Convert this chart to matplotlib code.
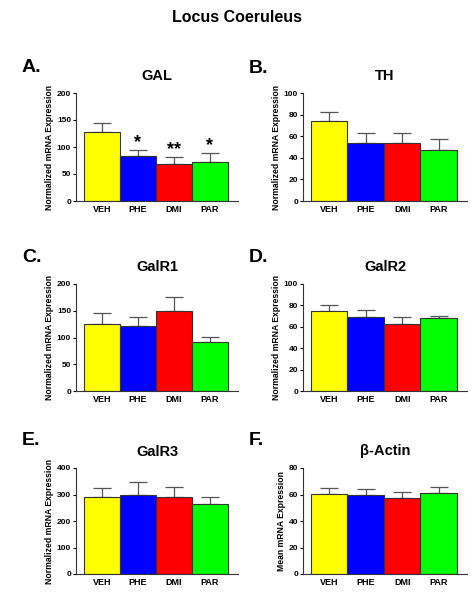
import matplotlib
matplotlib.use("Agg")
import matplotlib.pyplot as plt
import numpy as np

plt.rcParams['font.family'] = ['Liberation Sans', 'DejaVu Sans']
plt.rcParams['font.weight'] = 'bold'

groups = ['VEH', 'PHE', 'DMI', 'PAR']
bar_colors = ['#ffff00', '#0000ff', '#ff0000', '#00ff00']

gal_mean = [128, 83, 69, 73]
gal_sem = [17, 11, 12, 15]
gal_stars = ['', '*', '**', '*']
th_mean = [74, 54, 53.5, 47.5]
th_sem = [8.5, 9.3, 9.3, 10]
galr1_mean = [125, 121, 149.5, 91]
galr1_sem = [20, 18, 27, 9.5]
galr2_mean = [74.5, 69, 63, 68]
galr2_sem = [5.5, 6.5, 6, 2.5]
galr3_mean = [292, 300, 292, 263]
galr3_sem = [33, 48, 38, 26]
actin_mean = [60.5, 59.5, 57, 61.5]
actin_sem = [4.5, 4.3, 4.7, 4.5]

panels = [
    ('A.', 'GAL', gal_mean, gal_sem, 200, 50, 'Normalized mRNA Expression', gal_stars),
    ('B.', 'TH', th_mean, th_sem, 100, 20, 'Normalized mRNA Expression', None),
    ('C.', 'GalR1', galr1_mean, galr1_sem, 200, 50, 'Normalized mRNA Expression', None),
    ('D.', 'GalR2', galr2_mean, galr2_sem, 100, 20, 'Normalized mRNA Expression', None),
    ('E.', 'GalR3', galr3_mean, galr3_sem, 400, 100, 'Normalized mRNA Expression', None),
    ('F.', '\u03b2-Actin', actin_mean, actin_sem, 80, 20, 'Mean mRNA Expression', None),
]

W, H = 473, 600
fig = plt.figure(figsize=(W / 100, H / 100), dpi=100)
fig.text(237 / W, 1 - 18 / H, 'Locus Coeruleus', ha='center', va='center',
         fontsize=11.5, fontweight='bold')

# axes boxes in pixels: left, top, right, bottom
col_x = [(76, 238), (303, 467)]
row_y = [(93, 201), (284, 391), (468, 574)]
letter_pos = [(22, 72), (249, 73), (22, 262), (249, 262), (22, 445), (249, 445)]

x = np.arange(len(groups))
for i, (letter, title, mean, sem, ymax, step, ylab, stars) in enumerate(panels):
    c, r = i % 2, i // 2
    l, rr = col_x[c]
    t, b = row_y[r]
    ax = fig.add_axes([l / W, 1 - b / H, (rr - l) / W, (b - t) / H])
    ax.errorbar(x, mean, yerr=[np.zeros(4), sem], fmt='none', ecolor='#555555',
                elinewidth=0.9, capsize=6.5, capthick=0.9, zorder=1)
    ax.bar(x, mean, width=1.0, color=bar_colors, edgecolor='#333333',
           linewidth=0.8, zorder=2)
    if stars:
        for xi, m, s, st in zip(x, mean, sem, stars):
            if st:
                ax.text(xi, m + s - 2, st, ha='center', va='bottom', fontsize=13,
                        fontweight='bold')
    ax.set_xlim(-0.72, 3.78)
    ax.set_ylim(0, ymax)
    ax.set_yticks(np.arange(0, ymax + 1, step))
    ax.set_xticks(x)
    ax.set_xticklabels(groups)
    ax.tick_params(axis='y', length=2.5, width=0.8, labelsize=6, pad=1)
    ax.tick_params(axis='x', length=0, labelsize=6.5, pad=3)
    for lab in ax.get_xticklabels() + ax.get_yticklabels():
        lab.set_fontweight('bold')
    for sp in ['top', 'right']:
        ax.spines[sp].set_visible(False)
    for sp in ['left', 'bottom']:
        ax.spines[sp].set_linewidth(0.8)
        ax.spines[sp].set_color('#333333')
    ax.set_ylabel(ylab, fontsize=6.2, fontweight='bold', labelpad=2)
    ax.set_title(title, fontsize=10.5, fontweight='bold', pad=9)
    lx, ly = letter_pos[i]
    fig.text(lx / W, 1 - ly / H, letter, ha='left', va='baseline',
             fontsize=14, fontweight='bold')

fig.savefig('out.png', dpi=100)
